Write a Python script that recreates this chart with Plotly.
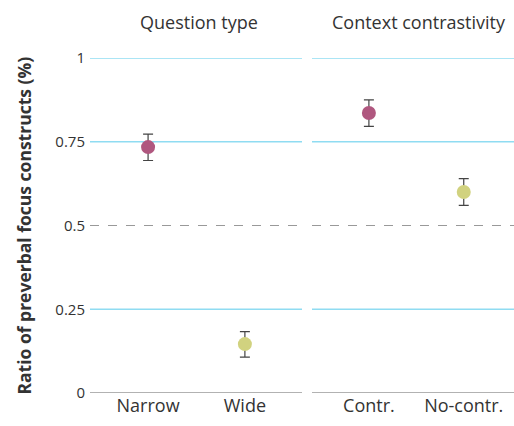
import plotly.graph_objects as go

panel_titles = ["Question type", "Context contrastivity"]
cats1 = ["Narrow", "Wide"]
vals1 = [0.734, 0.146]
lo1 = [0.694, 0.107]
hi1 = [0.773, 0.183]
cats2 = ["Contr.", "No-contr."]
vals2 = [0.836, 0.600]
lo2 = [0.796, 0.560]
hi2 = [0.875, 0.640]
colors = ["#b0577f", "#d1d27f"]
ytick_vals = [0, 0.25, 0.5, 0.75, 1]
ytick_text = ["0", "0.25", "0.5", "0.75", "1"]

FONT = "Open Sans"
W, H = 514, 426

fig = go.Figure()

def add_panel(cats, vals, lo, hi, xa, ya):
    for i, (c, v, l, h) in enumerate(zip(cats, vals, lo, hi)):
        fig.add_trace(go.Scatter(
            x=[i], y=[v], mode="markers", xaxis=xa, yaxis=ya,
            marker=dict(size=14, color=colors[i]),
            error_y=dict(type="data", symmetric=False, array=[h - v], arrayminus=[v - l],
                         color="#444444", thickness=1.2, width=5),
            showlegend=False, cliponaxis=False))

add_panel(cats1, vals1, lo1, hi1, "x", "y")
add_panel(cats2, vals2, lo2, hi2, "x2", "y2")

xr = [-0.6, 1.59]
common_y = dict(range=[0, 1], tickvals=ytick_vals, showgrid=False, zeroline=False,
                showline=False, ticks="", automargin=False)
fig.update_layout(
    width=W, height=H, plot_bgcolor="white", paper_bgcolor="white",
    margin=dict(l=0, r=0, t=58, b=33, autoexpand=False),
    font=dict(family=FONT, size=15, color="#333333"),
    xaxis=dict(domain=[90 / W, 302 / W], range=xr, tickvals=[0, 1], ticktext=cats1,
               showgrid=False, zeroline=False, showline=False, ticks="", automargin=False,
               tickfont=dict(size=18)),
    xaxis2=dict(domain=[312 / W, 1.0], range=[-0.6, 1.53], tickvals=[0, 1], ticktext=cats2,
                showgrid=False, zeroline=False, showline=False, ticks="", automargin=False,
                tickfont=dict(size=18)),
    yaxis=dict(anchor="x", ticktext=ytick_text, showticklabels=True, ticklabelstandoff=4,
               tickfont=dict(size=15), **common_y),
    yaxis2=dict(anchor="x2", showticklabels=False, **common_y),
)

shapes = []
for xref in ["x domain", "x2 domain"]:
    yref = "y" if xref.startswith("x ") else "y2"
    for v in ytick_vals:
        if v == 0:
            line = dict(color="#999999", width=1.5)
        elif v == 0.5:
            line = dict(color="#999999", width=1.2, dash="dash")
        else:
            line = dict(color="#8fdcf2", width=1.5)
        shapes.append(dict(type="line", xref=xref, yref=yref, x0=0, x1=1, y0=v, y1=v,
                           line=line, layer="below"))
fig.update_layout(shapes=shapes)

fig.add_annotation(text=panel_titles[0], x=199 / W, y=1, xref="paper", yref="paper",
                   xanchor="center", yanchor="middle",
                   yshift=36, showarrow=False, font=dict(size=18, color="#333333"))
fig.add_annotation(text=panel_titles[1], x=419 / W, y=1, xref="paper", yref="paper",
                   xanchor="center", yanchor="middle",
                   yshift=36, showarrow=False, font=dict(size=18, color="#333333"))
fig.add_annotation(text="<b>Ratio of preverbal focus constructs (%)</b>", textangle=-90,
                   x=23 / W, y=0.5, xref="paper", yref="paper", showarrow=False,
                   xanchor="center", yanchor="middle",
                   font=dict(size=17.5, color="#333333"))

fig.write_html("out.html", config={"displayModeBar": False},
               post_script="document.body.style.margin='0';")
